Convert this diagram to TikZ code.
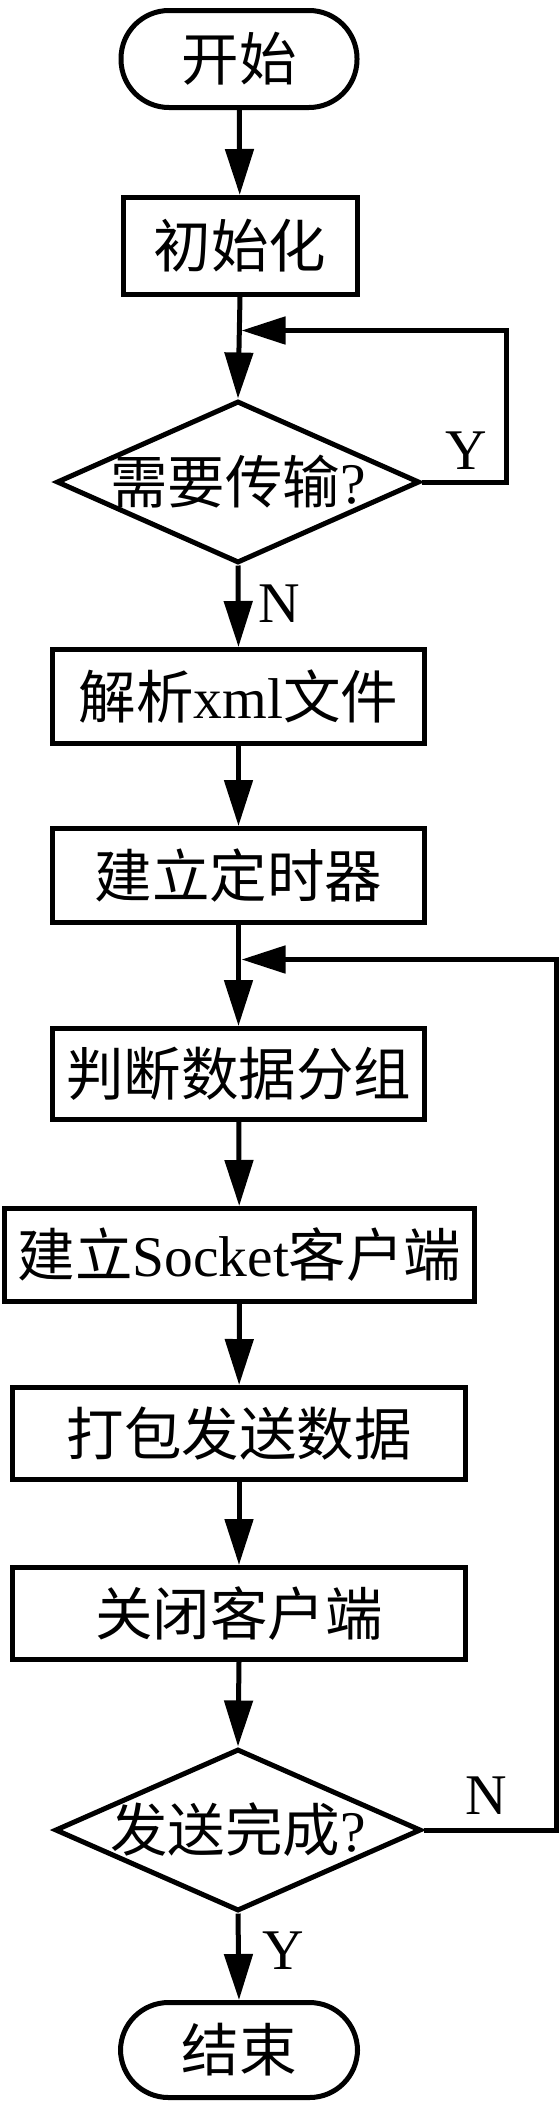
\documentclass[tikz,border=0pt]{standalone}
\usepackage{fontspec}
\setmainfont{Liberation Serif}
\newfontfamily\cjk{Noto Sans CJK SC}
\usetikzlibrary{arrows.meta,shapes.geometric}
\begin{document}
\begin{tikzpicture}[x=0.5pt,y=-0.5pt,
  txt/.style={font=\fontsize{28.75}{30}\selectfont},
  base/.style={txt,draw=black,line width=2.5pt,inner sep=0pt,fill=white},
  proc/.style={base,rectangle},
  term/.style={base,rectangle,rounded corners=24pt},
  dec/.style={base,diamond,minimum width=181.5pt,minimum height=81pt},
  arr/.style={line width=2.5pt,-{Triangle[length=23pt,width=14pt]}},
  loopln/.style={line width=2.5pt,-{Triangle[length=22pt,width=13.5pt]}},
  lbl/.style={txt,inner sep=0pt}]
\useasboundingbox (0,0) rectangle (560,2104);
\node[term,minimum width=118pt,minimum height=48.5pt] (start) at (239,59) {{\cjk 开始}};
\node[proc,minimum width=117pt,minimum height=48.5pt] (init) at (240,246) {{\cjk 初始化}};
\node[dec] (d1) at (238,482) {\makebox[0pt]{{\cjk 需要传输}?}};
\node[proc,minimum width=186pt,minimum height=47pt] (b3) at (238.5,696.5) {{\cjk 解析}xml{\cjk 文件}};
\node[proc,minimum width=186pt,minimum height=47pt] (b4) at (238.5,875.5) {{\cjk 建立定时器}};
\node[proc,minimum width=186pt,minimum height=45.5pt] (b5) at (238.5,1074) {{\cjk 判断数据分组}};
\node[proc,minimum width=235pt,minimum height=46.5pt] (b6) at (239.5,1255) {{\cjk 建立}Socket{\cjk 客户端}};
\node[proc,minimum width=226.5pt,minimum height=46pt] (b7) at (239,1433.5) {{\cjk 打包发送数据}};
\node[proc,minimum width=226.5pt,minimum height=46pt] (b8) at (239,1613.5) {{\cjk 关闭客户端}};
\node[dec,minimum width=183pt] (d2) at (238,1830) {\makebox[0pt]{{\cjk 发送完成}?}};
\node[term,minimum width=118.5pt,minimum height=47.5pt] (end) at (239,2050) {{\cjk 结束}};
\coordinate (r1) at (506.5,330.5);
\coordinate (j1) at (241.5,330.5);
\coordinate (r2) at (556,959.5);
\coordinate (j2) at (241.5,959.5);
\draw[arr] (start) -- (init);
\draw[arr] (init.south) -- (d1.north);
\draw[arr] (d1.south) -- (b3.north);
\draw[arr] (b3) -- (b4);
\draw[arr] (b4) -- (b5);
\draw[arr] (b5) -- (b6);
\draw[arr] (b6) -- (b7);
\draw[arr] (b7) -- (b8);
\draw[arr] (b8.south) -- (d2.north);
\draw[arr] (d2.south) -- (end.north);
\draw[loopln] (d1.east) -| (r1) -- (j1);
\draw[loopln] (d2.east) -| (r2) -- (j2);
\node[lbl] (y1) at (466,451) {Y};
\node[lbl] (n1) at (279,604) {N};
\node[lbl] (n2) at (486,1796) {N};
\node[lbl] (y2) at (283,1951) {Y};
\end{tikzpicture}
\end{document}
